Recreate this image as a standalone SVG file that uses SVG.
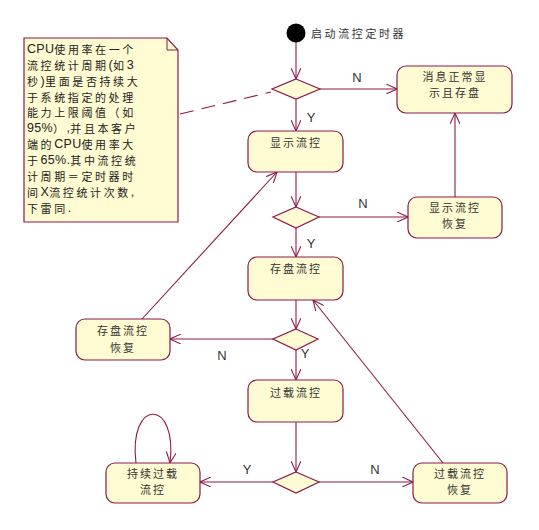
<svg xmlns="http://www.w3.org/2000/svg" width="539" height="530" viewBox="0 0 539 530">
<style>
.box{fill:#FFFBD2;stroke:#8B1A4A;stroke-width:1.2}
.dia{fill:#FFFBD2;stroke:#8B1A4A;stroke-width:1.2}
.ln{fill:none;stroke:#8B1A4A;stroke-width:1.1}
.t{font-family:"Noto Sans CJK SC","Liberation Sans",sans-serif;font-size:11px;fill:#333;text-anchor:middle;dominant-baseline:central;letter-spacing:2px}
.nt{font-family:"Noto Sans CJK SC","Liberation Sans",sans-serif;font-size:11px;fill:#222;dominant-baseline:central;letter-spacing:2.6px}
.la{font-family:"Liberation Sans",sans-serif;font-size:12.5px;letter-spacing:0.3px}
.lb{font-family:"Liberation Sans",sans-serif;font-size:13px;fill:#333;text-anchor:middle;dominant-baseline:central}
</style>
<defs>
<marker id="arr" viewBox="0 0 12 10" refX="11" refY="5" markerWidth="12" markerHeight="10" markerUnits="userSpaceOnUse" orient="auto">
<path d="M0,0 L11,5 L0,10" fill="none" stroke="#8B1A4A" stroke-width="1.1"/>
</marker>
</defs>
<rect width="539" height="530" fill="#fff"/>
<g id="connectors">
<line class="ln" x1="296" y1="42" x2="296" y2="79" marker-end="url(#arr)"/>
<line class="ln" x1="320" y1="89" x2="397" y2="89" marker-end="url(#arr)"/>
<line class="ln" x1="296" y1="99" x2="296" y2="131" marker-end="url(#arr)"/>
<line class="ln" x1="296" y1="172" x2="296" y2="207" marker-end="url(#arr)"/>
<line class="ln" x1="319" y1="217" x2="408" y2="217" marker-end="url(#arr)"/>
<line class="ln" x1="455" y1="197" x2="455" y2="113" marker-end="url(#arr)"/>
<line class="ln" x1="296" y1="228" x2="296" y2="257" marker-end="url(#arr)"/>
<line class="ln" x1="296" y1="300" x2="296" y2="329" marker-end="url(#arr)"/>
<line class="ln" x1="273" y1="339" x2="170" y2="339" marker-end="url(#arr)"/>
<line class="ln" x1="296" y1="350" x2="296" y2="380" marker-end="url(#arr)"/>
<line class="ln" x1="142" y1="319" x2="277" y2="172" marker-end="url(#arr)"/>
<line class="ln" x1="296" y1="422" x2="296" y2="472" marker-end="url(#arr)"/>
<line class="ln" x1="273" y1="482" x2="200" y2="482" marker-end="url(#arr)"/>
<line class="ln" x1="319" y1="482" x2="413" y2="482" marker-end="url(#arr)"/>
<line class="ln" x1="443" y1="463" x2="313" y2="300" marker-end="url(#arr)"/>
<path class="ln" d="M136,463 C128,398 178,398 170,463" marker-end="url(#arr)"/>
<line class="ln" x1="180" y1="114" x2="271" y2="92" stroke-dasharray="14,8"/>
<text class="lb" x="357" y="77">N</text>
<text class="lb" x="311" y="117">Y</text>
<text class="lb" x="363" y="203">N</text>
<text class="lb" x="311" y="243">Y</text>
<text class="lb" x="222" y="355">N</text>
<text class="lb" x="305" y="353">Y</text>
<text class="lb" x="247" y="469">Y</text>
<text class="lb" x="375" y="469">N</text>
</g>
<g id="note">
<path d="M24,38 L167,38 L178,50 L178,222 L24,222 Z" fill="#FFFBD2" stroke="#8B1A4A" stroke-width="1.2"/>
<path d="M167,38 L167,50 L178,50" fill="none" stroke="#8B1A4A" stroke-width="1"/>
<text class="nt" x="27" y="49"><tspan class="la">CPU</tspan>使用率在一个</text>
<text class="nt" x="27" y="65">流控统计周期<tspan class="la">(</tspan>如<tspan class="la">3</tspan></text>
<text class="nt" x="27" y="81">秒<tspan class="la">)</tspan>里面是否持续大</text>
<text class="nt" x="27" y="97">于系统指定的处理</text>
<text class="nt" x="27" y="112">能力上限阈值（如</text>
<text class="nt" x="27" y="128"><tspan class="la">95%</tspan>）<tspan class="la">,</tspan>并且本客户</text>
<text class="nt" x="27" y="144">端的<tspan class="la">CPU</tspan>使用率大</text>
<text class="nt" x="27" y="160">于<tspan class="la">65%.</tspan>其中流控统</text>
<text class="nt" x="27" y="176">计周期＝定时器时</text>
<text class="nt" x="27" y="192">间<tspan class="la">X</tspan>流控统计次数<tspan class="la">,</tspan></text>
<text class="nt" x="27" y="208">下雷同<tspan class="la">.</tspan></text>
</g>
<g id="start">
<circle cx="296" cy="33" r="9.5" fill="#000"/>
<text class="t" x="311" y="33" style="text-anchor:start;letter-spacing:2.6px">启动流控定时器</text>
</g>
<g id="d1"><polygon class="dia" points="296,79 320,89 296,99 272,89"/></g>
<g id="msg">
<rect class="box" x="397" y="66" width="115" height="47" rx="9"/>
<text class="t" x="455" y="76">消息正常显</text>
<text class="t" x="455" y="92">示且存盘</text>
</g>
<g id="show">
<rect class="box" x="248" y="131" width="95" height="41" rx="9"/>
<text class="t" x="296" y="142">显示流控</text>
</g>
<g id="d2"><polygon class="dia" points="296,207 319,217 296,228 273,217"/></g>
<g id="showRecover">
<rect class="box" x="408" y="197" width="94" height="41" rx="9"/>
<text class="t" x="455" y="207">显示流控</text>
<text class="t" x="455" y="223">恢复</text>
</g>
<g id="store">
<rect class="box" x="248" y="257" width="95" height="43" rx="9"/>
<text class="t" x="296" y="268">存盘流控</text>
</g>
<g id="d3"><polygon class="dia" points="296,329 318,339 296,350 273,339"/></g>
<g id="storeRecover">
<rect class="box" x="76" y="319" width="94" height="41" rx="9"/>
<text class="t" x="123" y="330">存盘流控</text>
<text class="t" x="123" y="347">恢复</text>
</g>
<g id="overload">
<rect class="box" x="248" y="380" width="95" height="42" rx="9"/>
<text class="t" x="296" y="392">过载流控</text>
</g>
<g id="d4"><polygon class="dia" points="296,472 319,482 296,493 273,482"/></g>
<g id="keepOverload">
<rect class="box" x="106" y="463" width="94" height="40" rx="9"/>
<text class="t" x="153" y="473">持续过载</text>
<text class="t" x="153" y="489">流控</text>
</g>
<g id="overloadRecover">
<rect class="box" x="413" y="463" width="94" height="40" rx="9"/>
<text class="t" x="460" y="473">过载流控</text>
<text class="t" x="460" y="489">恢复</text>
</g>
</svg>
